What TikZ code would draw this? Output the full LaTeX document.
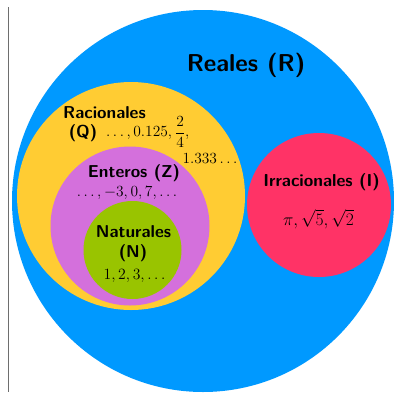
\documentclass[tikz,border=0pt]{standalone}
\usepackage{fix-cm}
\usepackage{amsmath}
\usepackage{fontspec}
\definecolor{cblue}{RGB}{0,153,255}
\definecolor{cyellow}{RGB}{255,204,51}
\definecolor{cpurple}{RGB}{212,112,220}
\definecolor{cgreen}{RGB}{153,196,0}
\definecolor{cred}{RGB}{255,51,102}
\definecolor{cline}{RGB}{110,110,110}
\tikzset{
  setlabel/.style={text=black, inner sep=0pt, align=center},
  setmath/.style={text=black, inner sep=0pt},
}
\newcommand{\lblfont}[1]{\fontsize{#1}{#1}\sffamily\bfseries\selectfont}
\newcommand{\mthfont}[1]{\fontsize{#1}{#1}\selectfont}
\begin{document}
\begin{tikzpicture}[x=1pt,y=-1pt]
\useasboundingbox (0,0) rectangle (394,392);
\fill[white] (0,0) rectangle (394,392);
\begin{scope}
\clip (0,0) rectangle (394,392);
\fill[cblue] (203,201) circle (191);
\end{scope}
\draw[cline, line width=1pt] (8,7) coordinate (lt) -- (8,392) coordinate (lb);
\fill[cyellow] (131,196) circle (114);
\fill[cpurple] (130,226) circle (79.5);
\fill[cgreen] (132.5,250) circle (49);
\fill[cred] (319,205) circle (72);
\node[setlabel, font=\lblfont{24.4}] (reales) at (246,65) {Reales (R)};
\node[setlabel, font=\lblfont{17.2}] (racional) at (104.5,113) {Racionales};
\node[setlabel, font=\lblfont{17.2}] (q) at (83,133) {(Q)};
\node[setmath, font=\mthfont{15.5}, anchor=west] (qex) at (106,133) {$\ldots, 0.125,$};
\node[setmath, font=\mthfont{15.5}, anchor=west] (qfrac) at (175,132) {$\dfrac{2}{4},$};
\node[setmath, font=\mthfont{15.5}] (qex2) at (210,158) {$1.333\ldots$};
\node[setlabel, font=\lblfont{17.2}] (enteros) at (134,173) {Enteros (Z)};
\node[setmath, font=\mthfont{15.5}] (zex) at (127,193) {$\ldots, -3, 0, 7, \ldots$};
\node[setlabel, font=\lblfont{17.2}] (natur) at (133.5,232) {Naturales};
\node[setlabel, font=\lblfont{17.2}] (n) at (133,253) {(N)};
\node[setmath, font=\mthfont{15.7}] (nex) at (134.5,276) {$1, 2, 3, \ldots$};
\node[setlabel, font=\lblfont{17.3}] (irr) at (321.5,182) {Irracionales (I)};
\node[setmath, font=\mthfont{17.5}] (iex) at (318.5,219) {$\pi, \sqrt{5}, \sqrt{2}$};
\end{tikzpicture}
\end{document}
